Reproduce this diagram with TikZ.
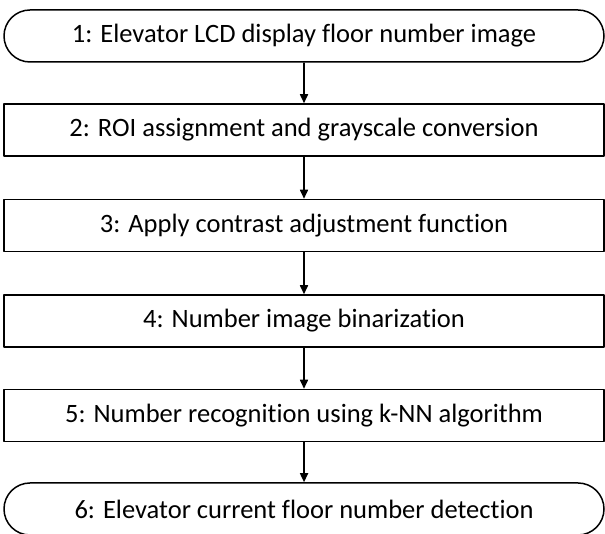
\documentclass[tikz,border=0pt]{standalone}
\usepackage{fontspec}
\setmainfont{Carlito}[Ligatures={NoCommon,NoRequired,NoContextual}]
\usetikzlibrary{shapes.misc,arrows.meta}
\begin{document}
\begin{tikzpicture}[x=1pt, y=1pt, font=\fontsize{26.5}{30}\selectfont, line join=round, >={Triangle[length=9pt,width=8pt]}]
			\def\w{600}
			\def\h{52}
			\tikzset{
				stepbox/.style={draw, line width=1.5pt, minimum width=\w pt, minimum height=\h pt, inner sep=0pt},
				endbox/.style={stepbox, rounded rectangle, rounded rectangle arc length=180},
				flow/.style={->, line width=1.6pt}
			}
			\useasboundingbox (0,0) rectangle (605,534);
			\node[endbox] (s1) at (304,498) {1: Elevator LCD display floor number image};
			\node[stepbox] (s2) at (304,404) {2: ROI assignment and grayscale conversion};
			\node[stepbox] (s3) at (304,308.5) {3: Apply contrast adjustment function};
			\node[stepbox] (s4) at (304,213) {4: Number image binarization};
			\node[stepbox] (s5) at (304,118.5) {5: Number recognition using k-NN algorithm};
			\node[endbox] (s6) at (304,25) {6: Elevator current floor number detection};
			\foreach \p/\q in {s1/s2,s2/s3,s3/s4,s4/s5,s5/s6}
			\draw[flow] (\p) -- (\q);
			\end{tikzpicture}
\end{document}
